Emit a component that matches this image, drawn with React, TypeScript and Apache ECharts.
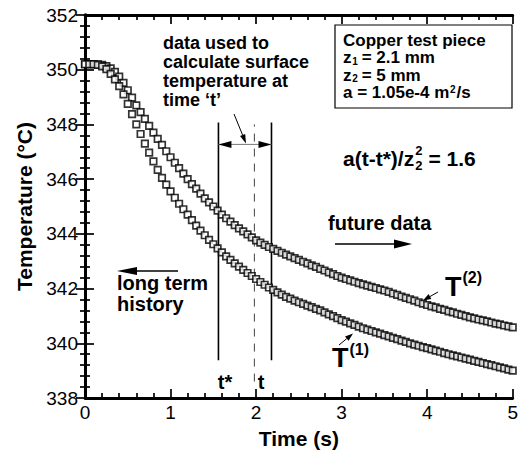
import React, { useEffect, useRef } from "react";
import * as echarts from "echarts";

// Sampling interval of the thermocouple records (s)
const SAMPLE_STEP = 0.05;

// T(1): sensor at z1 = 2.1 mm (°C), one value per sample from t = 0 to 5 s
const T1_VALUES = [
  350.2, 350.2, 350.2, 350.18, 350.12, 350.02, 349.85, 349.65, 349.4, 349.1,
  348.75, 348.38, 348.0, 347.65, 347.3, 346.97, 346.65, 346.34, 346.05, 345.8,
  345.55, 345.32, 345.1, 344.9, 344.7, 344.5, 344.3, 344.12, 343.95, 343.78,
  343.62, 343.47, 343.32, 343.18, 343.05, 342.92, 342.8, 342.68, 342.57, 342.46,
  342.35, 342.24, 342.14, 342.04, 341.95, 341.86, 341.78, 341.7, 341.63, 341.56,
  341.5, 341.44, 341.38, 341.32, 341.26, 341.2, 341.13, 341.06, 340.99, 340.92,
  340.85, 340.79, 340.73, 340.67, 340.61, 340.55, 340.5, 340.45, 340.4, 340.35,
  340.3, 340.25, 340.2, 340.15, 340.1, 340.05, 340.0, 339.95, 339.91, 339.86,
  339.82, 339.78, 339.73, 339.69, 339.64, 339.6, 339.56, 339.52, 339.48, 339.44,
  339.4, 339.36, 339.32, 339.28, 339.24, 339.2, 339.16, 339.12, 339.08, 339.04,
  339.0,
];

// T(2): sensor at z2 = 5 mm (°C)
const T2_VALUES = [
  350.2, 350.2, 350.2, 350.2, 350.18, 350.13, 350.05, 349.92, 349.75, 349.52,
  349.25, 348.98, 348.7, 348.45, 348.2, 347.95, 347.7, 347.47, 347.25, 347.02,
  346.8, 346.6, 346.4, 346.2, 346.0, 345.82, 345.65, 345.47, 345.3, 345.15,
  345.0, 344.85, 344.7, 344.57, 344.45, 344.32, 344.2, 344.09, 343.98, 343.87,
  343.76, 343.68, 343.6, 343.52, 343.45, 343.38, 343.31, 343.24, 343.18, 343.11,
  343.05, 342.98, 342.92, 342.85, 342.79, 342.72, 342.66, 342.59, 342.53, 342.46,
  342.4, 342.35, 342.3, 342.25, 342.2, 342.15, 342.11, 342.06, 342.02, 341.97,
  341.93, 341.88, 341.82, 341.77, 341.71, 341.66, 341.61, 341.56, 341.5, 341.45,
  341.4, 341.35, 341.31, 341.26, 341.22, 341.17, 341.13, 341.08, 341.04, 340.99,
  340.95, 340.91, 340.87, 340.84, 340.8, 340.76, 340.72, 340.69, 340.65, 340.62,
  340.58,
];

// Axis ranges and major tick spacing
const TIME_RANGE = [0, 5];
const TIME_INTERVAL = 1;
const TEMP_RANGE = [338, 352];
const TEMP_INTERVAL = 2;

// Data window used for the surface estimate at time t
const T_STAR = 1.56;
const T_EVAL = 1.98;
const T_WINDOW_END = 2.18;
const WINDOW_TEMPS = [339.38, 348.07];
const EVAL_TEMPS = [338.6, 348.0];
const WINDOW_ARROW_TEMP = 347.27;

const FONT = '"Liberation Sans", Arial, Helvetica, sans-serif';

const measureCtx =
  typeof document !== "undefined"
    ? document.createElement("canvas").getContext("2d")
    : null;
function textWidth(s: string, size: number, weight = "bold"): number {
  if (!measureCtx) return s.length * size * 0.55;
  measureCtx.font = `${weight} ${size}px "Liberation Sans"`;
  return measureCtx.measureText(s).width;
}

function label(
  text: string,
  x: number,
  y: number,
  size: number,
  align: "left" | "center" | "right" = "left",
  weight = "bold"
) {
  return {
    type: "text",
    x,
    y,
    silent: true,
    z: 20,
    style: {
      text,
      fill: "#000",
      fontSize: size,
      fontWeight: weight,
      fontFamily: FONT,
      align,
      textAlign: align,
      verticalAlign: "middle",
      textVerticalAlign: "middle",
    },
  };
}

function arrow(
  x1: number,
  y1: number,
  x2: number,
  y2: number,
  head: number,
  halfW: number,
  lw: number,
  color = "#000"
) {
  const dx = x2 - x1;
  const dy = y2 - y1;
  const len = Math.hypot(dx, dy);
  const ux = dx / len;
  const uy = dy / len;
  const bx = x2 - ux * head;
  const by = y2 - uy * head;
  const nx = -uy;
  const ny = ux;
  return [
    {
      type: "line",
      silent: true,
      z: 20,
      shape: { x1, y1, x2: bx, y2: by },
      style: { stroke: color, lineWidth: lw },
    },
    {
      type: "polygon",
      silent: true,
      z: 20,
      shape: {
        points: [
          [x2, y2],
          [bx + nx * halfW, by + ny * halfW],
          [bx - nx * halfW, by - ny * halfW],
        ],
      },
      style: { fill: color },
    },
  ];
}

export default function App() {
  const ref = useRef<HTMLDivElement>(null);

  useEffect(() => {
    document.body.style.margin = "0";
    if (!ref.current) return;
    const chart = echarts.init(ref.current, undefined, { renderer: "svg" });

    const toPoints = (vals: number[]) =>
      vals.map((v, i) => [Number((i * SAMPLE_STEP).toFixed(2)), v]);

    const tickLabel = {
      fontSize: 19,
      color: "#000",
      fontFamily: FONT,
    };
    const axisLine = { show: true, lineStyle: { color: "#000", width: 2.8 } };
    const axisTick = {
      show: true,
      inside: true,
      length: 9,
      lineStyle: { color: "#000", width: 1.7 },
    };
    const minorTick = {
      show: true,
      splitNumber: 5,
      length: 5,
      lineStyle: { color: "#000", width: 1.7 },
    };

    const xBase = {
      type: "value",
      min: TIME_RANGE[0],
      max: TIME_RANGE[1],
      interval: TIME_INTERVAL,
      axisLine,
      axisTick,
      minorTick,
      splitLine: { show: false },
    };
    const yBase = {
      type: "value",
      min: TEMP_RANGE[0],
      max: TEMP_RANGE[1],
      interval: TEMP_INTERVAL,
      axisLine,
      axisTick,
      minorTick,
      splitLine: { show: false },
    };

    const vline = (t: number, temps: number[], dashed: boolean) => ({
      type: "line",
      data: [
        [t, temps[0]],
        [t, temps[1]],
      ],
      symbol: "none",
      silent: true,
      z: 1,
      lineStyle: dashed
        ? { color: "#444", width: 1, type: [8, 7] }
        : { color: "#000", width: 1.6 },
    });

    const markerStyle = {
      color: "#fff",
      borderColor: "#000",
      borderWidth: 1.7,
    };

    chart.setOption({
      animation: false,
      backgroundColor: "#fff",
      grid: { left: 85, right: 4, top: 15, bottom: 54 },
      xAxis: [
        {
          ...xBase,
          position: "bottom",
          axisLabel: { ...tickLabel, margin: 5 },
          name: "Time (s)",
          nameLocation: "middle",
          nameGap: 30,
          nameTextStyle: {
            fontSize: 21,
            fontWeight: "bold",
            color: "#000",
            fontFamily: FONT,
          },
        },
        { ...xBase, position: "top", axisLabel: { show: false } },
      ],
      yAxis: [
        {
          ...yBase,
          position: "left",
          axisLabel: { ...tickLabel, margin: 7 },
          name: "Temperature (°C)",
          nameLocation: "middle",
          nameGap: 48,
          nameTextStyle: {
            fontSize: 21,
            fontWeight: "bold",
            color: "#000",
            fontFamily: FONT,
          },
        },
        { ...yBase, position: "right", axisLabel: { show: false } },
      ],
      series: [
        vline(T_STAR, WINDOW_TEMPS, false),
        vline(T_WINDOW_END, WINDOW_TEMPS, false),
        vline(T_EVAL, EVAL_TEMPS, true),
        {
          name: "T(2)",
          type: "scatter",
          data: toPoints(T2_VALUES),
          symbol: "rect",
          symbolSize: 6.5,
          itemStyle: markerStyle,
          z: 3,
        },
        {
          name: "T(1)",
          type: "scatter",
          data: toPoints(T1_VALUES),
          symbol: "rect",
          symbolSize: 6.5,
          itemStyle: markerStyle,
          z: 3,
        },
      ],
    });

    const px = (t: number, T: number) =>
      chart.convertToPixel({ gridIndex: 0 }, [t, T]) as number[];

    const [xs, ya] = px(T_STAR, WINDOW_ARROW_TEMP);
    const [xe] = px(T_WINDOW_END, WINDOW_ARROW_TEMP);

    const g: any[] = [];

    // note above the window
    g.push(label("data used to", 163, 43, 18));
    g.push(label("calculate surface", 163, 62, 18));
    g.push(label("temperature at", 163, 81, 18));
    g.push(label("time \u2018t\u2019", 163, 100, 18));

    // window arrows
    g.push({
      type: "line",
      silent: true,
      z: 19,
      shape: { x1: xs, y1: ya, x2: xe, y2: ya },
      style: { stroke: "#777", lineWidth: 1 },
    });
    const mid = (xs + xe) / 2;
    g.push(...arrow(mid, ya, xs, ya, 13, 3.5, 0.01));
    g.push(...arrow(mid, ya, xe, ya, 13, 3.5, 0.01));
    g.push(...arrow(234, 114, 246, ya - 1, 9, 2.8, 1));

    // parameter box
    const bx = 343;
    const fs = 17;
    const ss = 10;
    g.push({
      type: "rect",
      silent: true,
      z: 18,
      shape: { x: 335, y: 25, width: 177, height: 83 },
      style: { fill: "#fff", stroke: "#000", lineWidth: 1.2 },
    });
    g.push(label("Copper test piece", bx, 40, fs));
    const zw = textWidth("z", fs) + 0.8;
    const sw = textWidth("1", ss) + 0.8;
    g.push(label("z", bx, 57.5, fs));
    g.push(label("1", bx + zw, 61, ss));
    g.push(label("= 2.1 mm", bx + zw + sw + 3, 57.5, fs));
    g.push(label("z", bx, 75, fs));
    g.push(label("2", bx + zw, 78.5, ss));
    g.push(label("= 5 mm", bx + zw + sw + 3, 75, fs));
    const aText = "a = 1.05e-4 m";
    const aw = textWidth(aText, fs) + 0.8;
    g.push(label(aText, bx, 92.5, fs));
    g.push(label("2", bx + aw, 89, ss));
    g.push(label("/s", bx + aw + textWidth("2", ss) + 0.8, 92.5, fs));

    // Fourier number for the window
    const fText = "a(t-t*)/z";
    const fw = textWidth(fText, 21) + 1;
    g.push(label(fText, bx, 158, 21));
    g.push(label("2", bx + fw, 150.5, 13));
    g.push(label("2", bx + fw, 165.5, 13));
    g.push(label("= 1.6", bx + fw + textWidth("2", 13) + 6, 158, 21));

    // direction notes
    g.push(label("future data", 328, 223, 20));
    g.push(...arrow(335, 244, 412, 244, 18, 4.5, 1.6));
    g.push(label("long term", 117, 283, 20));
    g.push(label("history", 117, 304, 20));
    g.push(...arrow(178, 271, 117, 271, 20, 4, 1.6));

    // window time labels
    g.push(label("t*", 225, 382, 20, "center"));
    g.push(label("t", 261, 382, 20, "center"));

    // curve labels
    const tw27 = textWidth("T", 27) + 1;
    g.push(label("T", 445, 287, 27));
    g.push(label("(2)", 445 + tw27, 277, 16));
    g.push(...arrow(438, 292, 423, 300.5, 8, 2.8, 1));
    g.push(label("T", 332, 358, 27));
    g.push(label("(1)", 332 + tw27, 349, 16));
    g.push(...arrow(339, 345, 353, 333.5, 8, 2.8, 1));

    chart.setOption({ graphic: { elements: g } });

    return () => chart.dispose();
  }, []);

  return <div ref={ref} style={{ width: 521, height: 454 }} />;
}
